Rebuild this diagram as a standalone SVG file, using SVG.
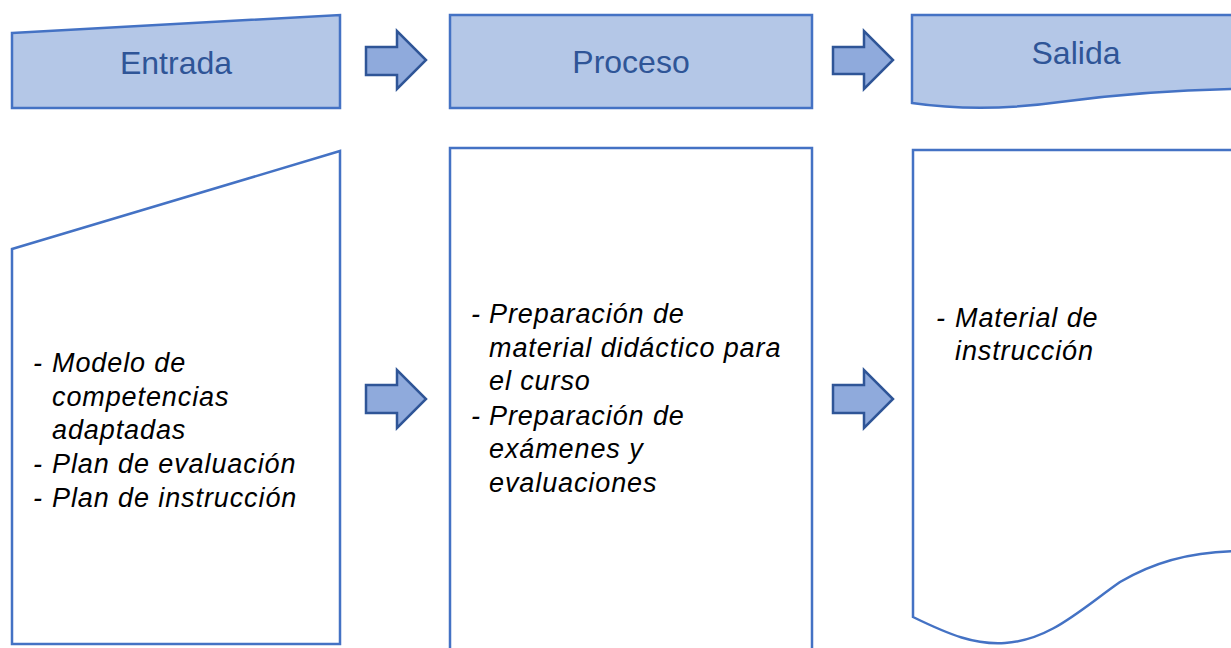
<svg xmlns="http://www.w3.org/2000/svg" width="1231" height="648" viewBox="0 0 1231 648">
<style>
.hdr{fill:#B4C7E7;stroke:#4472C4;stroke-width:2.5}
.box{fill:#FFFFFF;stroke:#4472C4;stroke-width:2.5}
.arr{fill:#8FAADC;stroke:#2F5597;stroke-width:2.5;stroke-linejoin:miter}
.ht{font-family:"Liberation Sans",Arial,sans-serif;font-size:32px;fill:#2F5597;text-anchor:middle}
.bt{font-family:"Liberation Sans",Arial,sans-serif;font-size:27px;font-style:italic;fill:#000000;letter-spacing:0.9px}
</style>
<rect width="1231" height="648" fill="#FFFFFF"/>
<g id="entrada-header">
<path class="hdr" d="M12,33 L340,15 L340,108 L12,108 Z"/>
<text class="ht" x="176" y="74">Entrada</text>
</g>
<g id="proceso-header">
<rect class="hdr" x="450" y="15" width="362" height="93"/>
<text class="ht" x="631" y="73">Proceso</text>
</g>
<g id="salida-header">
<path class="hdr" d="M912,15 L1240,15 L1240,89 L1231,89 C1180,90 1120,94 1060,102 C1010,109 960,110 912,103 Z"/>
<text class="ht" x="1076" y="64">Salida</text>
</g>
<g id="entrada-body">
<path class="box" d="M12,249 L340,151 L340,644 L12,644 Z"/>
<text class="bt"><tspan x="33" y="372">- </tspan><tspan x="52" y="372">Modelo de</tspan><tspan x="52" y="406">competencias</tspan><tspan x="52" y="439">adaptadas</tspan><tspan x="33" y="473">- </tspan><tspan x="52" y="473">Plan de evaluación</tspan><tspan x="33" y="507">- </tspan><tspan x="52" y="507">Plan de instrucción</tspan></text>
</g>
<g id="proceso-body">
<path class="box" d="M450,652 L450,148 L812,148 L812,652"/>
<text class="bt"><tspan x="471" y="323">- </tspan><tspan x="489" y="323">Preparación de</tspan><tspan x="489" y="357">material didáctico para</tspan><tspan x="489" y="390">el curso</tspan><tspan x="471" y="425">- </tspan><tspan x="489" y="425">Preparación de</tspan><tspan x="489" y="458">exámenes y</tspan><tspan x="489" y="492">evaluaciones</tspan></text>
</g>
<g id="salida-body">
<path class="box" d="M1240,150 L913,150 L913,617 C950,635 975,645 1005,643 C1050,640 1080,610 1120,582 C1160,558 1200,551 1240,551"/>
<text class="bt"><tspan x="936" y="327">- </tspan><tspan x="955" y="327">Material de</tspan><tspan x="955" y="360">instrucción</tspan></text>
</g>
<g id="connectors">
<path class="arr" d="M366,47 L397,47 L397,31 L426,60 L397,89 L397,75 L366,75 Z"/>
<path class="arr" d="M833,47 L864,47 L864,31 L893,60 L864,89 L864,74 L833,74 Z"/>
<path class="arr" d="M366,385 L397,385 L397,370 L426,399 L397,428 L397,413 L366,413 Z"/>
<path class="arr" d="M833,385 L864,385 L864,370 L893,399 L864,428 L864,413 L833,413 Z"/>
</g>
</svg>
